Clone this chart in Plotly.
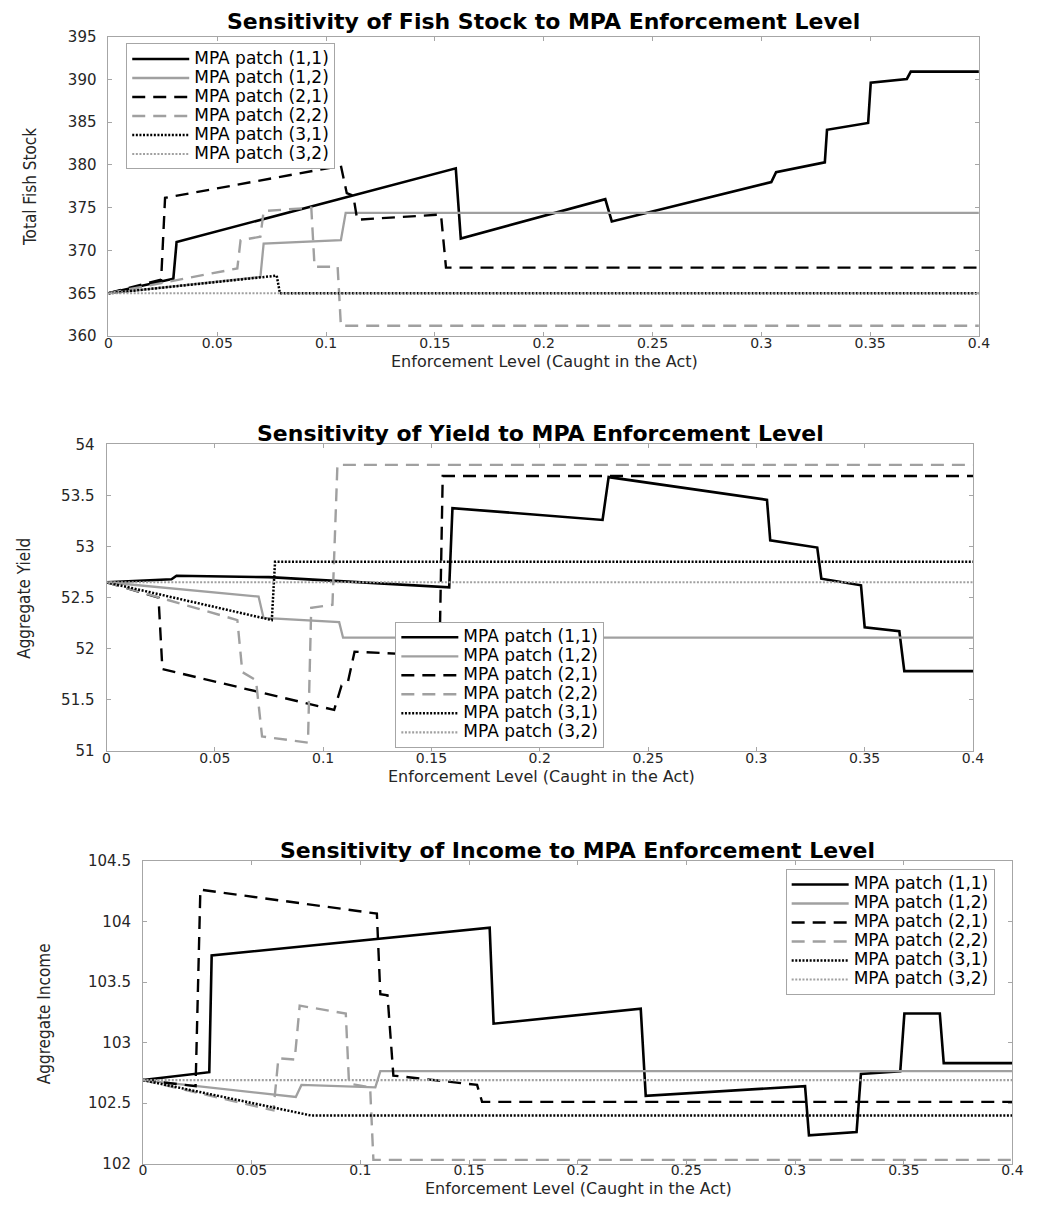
import plotly.graph_objects as go

# ---------------- data ----------------
x_ticks = [0, 0.05, 0.1, 0.15, 0.2, 0.25, 0.3, 0.35, 0.4]
series_names = ["MPA patch (1,1)", "MPA patch (1,2)", "MPA patch (2,1)",
                "MPA patch (2,2)", "MPA patch (3,1)", "MPA patch (3,2)"]

# Panel 1: Total Fish Stock
stock_x_11 = [0, 0.0298, 0.0313, 0.1596, 0.1619, 0.2283, 0.2313, 0.3046, 0.3068, 0.3292, 0.3302, 0.3491, 0.3503, 0.3669, 0.3687, 0.4]
stock_y_11 = [365, 366.7, 371.0, 379.6, 371.4, 376.0, 373.4, 378.0, 379.15, 380.3, 384.1, 384.9, 389.6, 390.05, 390.9, 390.9]
stock_x_12 = [0, 0.0698, 0.0713, 0.1068, 0.109, 0.4]
stock_y_12 = [365, 366.9, 370.8, 371.2, 374.4, 374.4]
stock_x_21 = [0, 0.0242, 0.026, 0.1068, 0.1095, 0.1125, 0.1143, 0.1528, 0.1551, 0.4]
stock_y_21 = [365, 366.6, 376.15, 379.9, 376.7, 376.4, 373.6, 374.2, 368.0, 368.0]
stock_x_22 = [0, 0.0592, 0.0607, 0.0698, 0.0713, 0.0932, 0.0947, 0.1053, 0.1068, 0.4]
stock_y_22 = [365, 367.9, 371.2, 371.6, 374.6, 375.0, 368.1, 368.1, 361.2, 361.2]
stock_x_31 = [0, 0.0773, 0.0788, 0.4]
stock_y_31 = [365, 367.06, 365.0, 365.0]
stock_x_32 = [0, 0.4]
stock_y_32 = [365, 365]

# Panel 2: Aggregate Yield
yield_x_11 = [0, 0.030, 0.0323, 0.075, 0.1582, 0.1597, 0.229, 0.2318, 0.3049, 0.3064, 0.3281, 0.330, 0.3483, 0.350, 0.366, 0.3683, 0.4]
yield_y_11 = [52.65, 52.68, 52.714, 52.70, 52.60, 53.376, 53.26, 53.68, 53.457, 53.06, 52.99, 52.685, 52.62, 52.21, 52.17, 51.78, 51.78]
yield_x_12 = [0, 0.0702, 0.0725, 0.1074, 0.1092, 0.4]
yield_y_12 = [52.65, 52.51, 52.30, 52.26, 52.107, 52.107]
yield_x_21 = [0, 0.024, 0.0258, 0.1051, 0.1085, 0.1115, 0.1145, 0.1537, 0.1552, 0.4]
yield_y_21 = [52.65, 52.50, 51.80, 51.40, 51.64, 51.68, 51.97, 51.93, 53.69, 53.69]
yield_x_22 = [0, 0.0604, 0.0627, 0.069, 0.0718, 0.093, 0.0945, 0.1043, 0.1066, 0.4]
yield_y_22 = [52.65, 52.28, 51.77, 51.69, 51.14, 51.08, 52.40, 52.43, 53.80, 53.80]
yield_x_31 = [0, 0.0763, 0.0778, 0.4]
yield_y_31 = [52.65, 52.28, 52.85, 52.85]
yield_x_32 = [0, 0.4]
yield_y_32 = [52.65, 52.65]

# Panel 3: Aggregate Income
income_x_11 = [0, 0.0305, 0.0316, 0.1595, 0.1613, 0.229, 0.2313, 0.3046, 0.3064, 0.3283, 0.3303, 0.3484, 0.3503, 0.3666, 0.3684, 0.4]
income_y_11 = [102.69, 102.755, 103.72, 103.95, 103.156, 103.28, 102.56, 102.64, 102.233, 102.26, 102.74, 102.763, 103.24, 103.24, 102.83, 102.83]
income_x_12 = [0, 0.0703, 0.0729, 0.1069, 0.1092, 0.4]
income_y_12 = [102.69, 102.55, 102.65, 102.63, 102.763, 102.763]
income_x_21 = [0, 0.0242, 0.0264, 0.1076, 0.1092, 0.1125, 0.1152, 0.1537, 0.156, 0.4]
income_y_21 = [102.69, 102.64, 104.264, 104.066, 103.40, 103.39, 102.727, 102.65, 102.51, 102.51]
income_x_22 = [0, 0.06, 0.0623, 0.0698, 0.0721, 0.0933, 0.0948, 0.1045, 0.106, 0.4]
income_y_22 = [102.69, 102.44, 102.87, 102.86, 103.305, 103.24, 102.66, 102.63, 102.03, 102.03]
income_x_31 = [0, 0.0774, 0.4]
income_y_31 = [102.69, 102.397, 102.397]
income_x_32 = [0, 0.4]
income_y_32 = [102.69, 102.69]

# ---------------- styling ----------------
W, H = 1052, 1207
BLACK = "#000000"
GRAY = "#a0a0a0"
FRAME = "#a6a6a6"
TXT = "#262626"
FONT = "DejaVu Sans"
DASH = "13px,8px"
DOT = "2px,1.6px"
styles = [(BLACK, "solid", 2.6), (GRAY, "solid", 2.3), (BLACK, DASH, 2.4),
          (GRAY, DASH, 2.4), (BLACK, DOT, 2.5), (GRAY, DOT, 2.2)]

panels = [
    dict(xs=[stock_x_11, stock_x_12, stock_x_21, stock_x_22, stock_x_31, stock_x_32],
         ys=[stock_y_11, stock_y_12, stock_y_21, stock_y_22, stock_y_31, stock_y_32]),
    dict(xs=[yield_x_11, yield_x_12, yield_x_21, yield_x_22, yield_x_31, yield_x_32],
         ys=[yield_y_11, yield_y_12, yield_y_21, yield_y_22, yield_y_31, yield_y_32]),
    dict(xs=[income_x_11, income_x_12, income_x_21, income_x_22, income_x_31, income_x_32],
         ys=[income_y_11, income_y_12, income_y_21, income_y_22, income_y_31, income_y_32]),
]

# plot-area pixel boxes (left, right, top, bottom)
boxes = [(106, 989, 28, 332), (104, 983, 442, 753), (141, 1023, 865, 1172)]
yranges = [[360, 395], [51, 54], [102, 104.5]]
ydticks = [5, 0.5, 0.5]
titles = ["Sensitivity of Fish Stock to MPA Enforcement Level",
          "Sensitivity of Yield to MPA Enforcement Level",
          "Sensitivity of Income to MPA Enforcement Level"]
ytitles = ["Total Fish Stock", "Aggregate Yield", "Aggregate Income"]
xtitle = "Enforcement Level (Caught in the Act)"

LEG_TXT = 17  # px, legend entry text size
fig = go.Figure()
legend_names = ["legend", "legend2", "legend3"]
for p, panel in enumerate(panels):
    sfx = "" if p == 0 else str(p + 1)
    for k in range(6):
        col, dash, lw = styles[k]
        fig.add_trace(go.Scatter(
            x=panel["xs"][k], y=panel["ys"][k], mode="lines",
            name='<span style="font-size:%dpx">%s</span>' % (LEG_TXT, series_names[k]),
            line=dict(color=col, width=lw, dash=dash),
            xaxis="x" + sfx, yaxis="y" + sfx,
            legend=legend_names[p], showlegend=True))

layout = dict(
    width=W, height=H, autosize=False,
    margin=dict(l=0, r=0, t=0, b=0, pad=0),
    paper_bgcolor="white", plot_bgcolor="white",
    font=dict(family=FONT, color=TXT),
    annotations=[],
)

axis_common = dict(showline=True, mirror="ticks", linecolor=FRAME, linewidth=1,
                   ticks="inside", ticklen=4, tickcolor=FRAME, tickwidth=1,
                   showgrid=False, zeroline=False)

title_centers = [(547, 13), (544, 431), (582, 854)]
xtitle_centers = [(548, 358), (545, 779), (583, 1197)]
ytitle_centers = [(27, 181), (20, 598), (40, 1020)]

for p in range(3):
    l, r, t, b = boxes[p]
    sfx = "" if p == 0 else str(p + 1)
    layout["xaxis" + sfx] = dict(axis_common, domain=[l / W, r / W], anchor="y" + sfx,
                                 range=[0, 0.4], tickvals=x_ticks,
                                 tickfont=dict(family=FONT, size=14, color=TXT),
                                 ticklabelstandoff=-6)
    layout["yaxis" + sfx] = dict(axis_common, domain=[1 - b / H, 1 - t / H], anchor="x" + sfx,
                                 range=yranges[p], dtick=ydticks[p], tick0=0,
                                 tickfont=dict(family=FONT, size=15, color=TXT),
                                 ticklabelstandoff=8)
    tx, ty = title_centers[p]
    layout["annotations"].append(dict(
        text="<b>" + titles[p] + "</b>", x=tx / W, y=1 - ty / H, xref="paper", yref="paper",
        xanchor="center", yanchor="middle", showarrow=False,
        font=dict(family=FONT, size=22, color="#000000")))
    xx, xy = xtitle_centers[p]
    layout["annotations"].append(dict(
        text=xtitle, x=xx / W, y=1 - xy / H, xref="paper", yref="paper",
        xanchor="center", yanchor="middle", showarrow=False,
        font=dict(family=FONT, size=16, color=TXT)))
    yx, yy = ytitle_centers[p]
    layout["annotations"].append(dict(
        text=ytitles[p], x=yx / W, y=1 - yy / H, xref="paper", yref="paper",
        xanchor="center", yanchor="middle", showarrow=False, textangle=-90,
        font=dict(family="Liberation Sans Narrow, DejaVu Sans Condensed, Liberation Sans",
                  size=17, color=TXT)))

legend_common = dict(bgcolor="white", bordercolor=FRAME, borderwidth=1,
                     font=dict(family=FONT, size=12, color="#000000"),
                     itemwidth=57, tracegroupgap=0, orientation="v")
layout["legend"] = dict(legend_common, x=124 / W, y=1 - 35 / H, xanchor="left", yanchor="top")
layout["legend2"] = dict(legend_common, x=397 / W, y=1 - 750 / H, xanchor="left", yanchor="bottom")
layout["legend3"] = dict(legend_common, x=1005 / W, y=1 - 873 / H, xanchor="right", yanchor="top")

fig.update_layout(**layout)
# remove the browser's default 8px body margin so the figure sits at the page origin
fig.write_html("out.html", config={"displayModeBar": False},
               post_script="document.body.style.margin='0';")
